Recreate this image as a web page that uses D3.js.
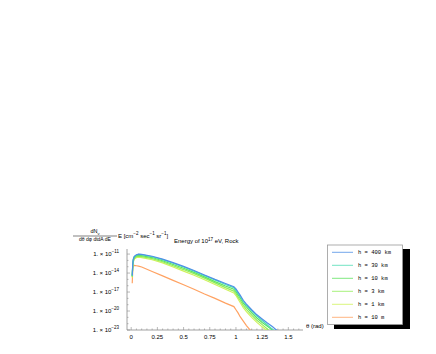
<!DOCTYPE html>
<html>
<head>
<meta charset="utf-8">
<script src="https://cdn.jsdelivr.net/npm/d3@7"></script>
<style>
  body { margin: 0; background: #fff; }
  text { font-family: "Liberation Sans", Arial, sans-serif; fill: #000; }
  .mono { font-family: "Liberation Mono", "DejaVu Sans Mono", monospace; }
</style>
</head>
<body>
<div id="chart"></div>
<script>
// angle grid (rad)
const theta = [0.01, 0.015, 0.02, 0.03, 0.05, 0.07, 0.1, 0.2, 0.3, 0.4, 0.5, 0.6, 0.7,
  0.8, 0.9, 0.98, 1.0, 1.02, 1.04, 1.07, 1.1, 1.15, 1.2, 1.25, 1.3, 1.35, 1.4];

// log10 of flux
const h400km = [-14.4, -12.5, -11.8, -11.35, -11.1, -11.0, -11.05, -11.35, -11.8, -12.35, -12.95, -13.6, -14.3,
  -15.0, -15.65, -16.15, -16.5, -17.0, -17.5, -18.3, -18.9, -19.8, -20.6, -21.25, -21.9, -22.5, -23.2];
const h30km = [-14.45, -12.55, -11.85, -11.4, -11.15, -11.05, -11.1, -11.42, -11.88, -12.45, -13.05, -13.7, -14.4,
  -15.1, -15.8, -16.3, -16.7, -17.2, -17.7, -18.5, -19.1, -20.0, -20.8, -21.5, -22.2, -22.9, -23.6];
const h10km = [-14.5, -12.65, -11.95, -11.5, -11.25, -11.2, -11.25, -11.55, -12.05, -12.65, -13.25, -13.9, -14.6,
  -15.35, -16.05, -16.55, -16.95, -17.45, -17.95, -18.75, -19.35, -20.3, -21.1, -21.8, -22.4, -23.05, -23.9];
const h3km = [-14.6, -12.8, -12.1, -11.65, -11.4, -11.35, -11.4, -11.72, -12.22, -12.85, -13.45, -14.1, -14.8,
  -15.55, -16.3, -16.85, -17.25, -17.8, -18.3, -19.1, -19.75, -20.65, -21.45, -22.15, -22.85, -23.6, -24.3];
const h1km = [-14.7, -12.95, -12.25, -11.8, -11.55, -11.5, -11.55, -11.9, -12.4, -13.05, -13.7, -14.35, -15.05,
  -15.8, -16.55, -17.15, -17.55, -18.1, -18.65, -19.45, -20.1, -21.0, -21.8, -22.5, -23.15, -23.9, -24.6];
const h10m = [-15.6, -13.3, -12.9, -12.8, -12.85, -12.9, -13.05, -13.75, -14.45, -15.15, -15.85, -16.55, -17.3,
  -18.0, -18.75, -19.3, -19.8, -20.3, -20.9, -21.6, -22.3, -23.3, -24.3, -25.3, -26.3, -27.3, -28.3];

const seriesNames = ['h = 400 km', 'h = 30 km', 'h = 10 km', 'h = 3 km', 'h = 1 km', 'h = 10 m'];
const seriesVals = [h400km, h30km, h10km, h3km, h1km, h10m];
const colors = ['#4f8fe6', '#4fdcb4', '#5ee35e', '#92ee5a', '#cff25c', '#ffa262'];

const xTicks = [0, 0.25, 0.5, 0.75, 1, 1.25, 1.5];
const xTickLabels = ['0', '0.25', '0.5', '0.75', '1', '1.25', '1.5'];
const yTicks = [-11, -14, -17, -20, -23];

const width = 436, height = 354;

const svg = d3.select('#chart').append('svg')
  .attr('width', width)
  .attr('height', height);

const x = d3.scaleLinear().domain([-0.04, 1.64]).range([127, 303]);
const y = d3.scaleLinear().domain([-23, -10.2]).range([330, 249]);

// clip to plot area
svg.append('defs').append('clipPath').attr('id', 'plot')
  .append('rect')
  .attr('x', x(-0.04)).attr('y', y(-10.2))
  .attr('width', x(1.64) - x(-0.04)).attr('height', y(-23) - y(-10.2));

// axes
const axisColor = '#8c8c8c';
svg.append('line')
  .attr('x1', x(-0.04)).attr('x2', x(1.64))
  .attr('y1', y(-23)).attr('y2', y(-23))
  .attr('stroke', axisColor).attr('stroke-width', 0.8);
svg.append('line')
  .attr('x1', x(-0.04)).attr('x2', x(-0.04))
  .attr('y1', y(-23)).attr('y2', y(-10.2))
  .attr('stroke', axisColor).attr('stroke-width', 0.8);

// x ticks
const xMinor = d3.range(0, 1.61, 0.05);
svg.append('g').selectAll('line').data(xMinor).enter().append('line')
  .attr('x1', d => x(d)).attr('x2', d => x(d))
  .attr('y1', y(-23)).attr('y2', d => y(-23) - (Math.abs(d * 4 - Math.round(d * 4)) < 1e-6 ? 3 : 1.5))
  .attr('stroke', axisColor).attr('stroke-width', 0.6);
svg.append('g').selectAll('text').data(xTicks).enter().append('text')
  .attr('x', d => x(d)).attr('y', 339)
  .attr('text-anchor', 'middle')
  .style('font-size', '6px')
  .text((d, i) => xTickLabels[i]);
svg.append('text').attr('x', 306).attr('y', 328)
  .style('font-size', '6px').text('θ (rad)');

// y ticks
const yMinor = d3.range(-23, -10, 1);
svg.append('g').selectAll('line').data(yMinor).enter().append('line')
  .attr('x1', x(-0.04)).attr('x2', d => x(-0.04) + ((d + 23) % 3 === 0 ? 3 : 1.5))
  .attr('y1', d => y(d)).attr('y2', d => y(d))
  .attr('stroke', axisColor).attr('stroke-width', 0.6);
const yl = svg.append('g').selectAll('text').data(yTicks).enter().append('text')
  .attr('x', 119).attr('y', d => y(d) + 2)
  .attr('text-anchor', 'end')
  .style('font-size', '6px');
yl.append('tspan').text('1. \u00d7 10');
yl.append('tspan').attr('dy', -3).style('font-size', '4.5px').text(d => '\u2212' + (-d));

// curves
const line = d3.line()
  .x((d, i) => x(theta[i]))
  .y(d => y(d));

svg.append('g').attr('clip-path', 'url(#plot)')
  .selectAll('path').data(seriesVals.slice().reverse()).enter().append('path')
  .attr('d', line)
  .attr('fill', 'none')
  .attr('stroke', (d, i) => colors[colors.length - 1 - i])
  .attr('stroke-width', 1.2);

// y label
svg.append('text').attr('x', 95).attr('y', 233).attr('text-anchor', 'middle')
  .style('font-size', '5.5px')
  .call(t => {
    t.append('tspan').text('dN');
    t.append('tspan').attr('dy', 1.5).style('font-size', '4px').text('ν');
  });
svg.append('line').attr('x1', 73).attr('x2', 117).attr('y1', 236).attr('y2', 236)
  .attr('stroke', '#000').attr('stroke-width', 0.5);
svg.append('text').attr('x', 95).attr('y', 241).attr('text-anchor', 'middle')
  .style('font-size', '5px').text('dθ dφ dtdA dE');
svg.append('text').attr('x', 118).attr('y', 237.5)
  .style('font-size', '6px')
  .call(t => {
    t.append('tspan').text('E [cm');
    t.append('tspan').attr('dy', -2.5).style('font-size', '4.5px').text('\u22122');
    t.append('tspan').attr('dy', 2.5).text(' sec');
    t.append('tspan').attr('dy', -2.5).style('font-size', '4.5px').text('\u22121');
    t.append('tspan').attr('dy', 2.5).text(' sr');
    t.append('tspan').attr('dy', -2.5).style('font-size', '4.5px').text('\u22121');
    t.append('tspan').attr('dy', 2.5).text(']');
  });
svg.append('text').attr('x', 174).attr('y', 243)
  .style('font-size', '6px')
  .call(t => {
    t.append('tspan').text('Energy of 10');
    t.append('tspan').attr('dy', -2.5).style('font-size', '4.5px').text('17');
    t.append('tspan').attr('dy', 2.5).text(' eV, Rock');
  });

// legend
const lg = svg.append('g');
lg.append('rect').attr('x', 334).attr('y', 249).attr('width', 76).attr('height', 80).attr('fill', '#000');
lg.append('rect').attr('x', 327.5).attr('y', 245).attr('width', 75).attr('height', 79.5)
  .attr('fill', '#fff').attr('stroke', '#999').attr('stroke-width', 0.8);
const rows = lg.selectAll('g.row').data(seriesNames).enter().append('g')
  .attr('transform', (d, i) => `translate(0,${252.3 + i * 13})`);
rows.append('line').attr('x1', 332).attr('x2', 353).attr('y1', 0).attr('y2', 0)
  .attr('stroke', (d, i) => colors[i]).attr('stroke-width', 0.8);
rows.append('text').attr('class', 'mono').attr('x', 358).attr('y', 2)
  .style('font-size', '5.5px').text(d => d);
</script>
</body>
</html>
